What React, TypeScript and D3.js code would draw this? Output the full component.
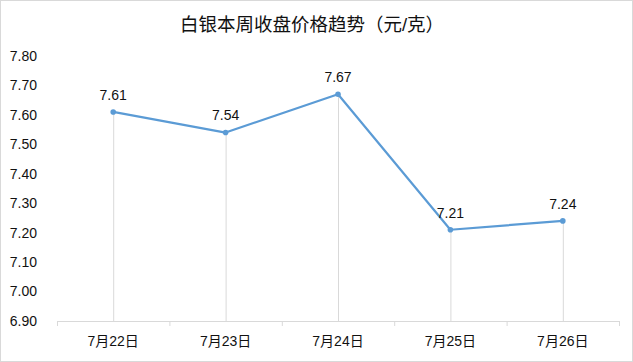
import React from 'react';
import * as d3 from 'd3';

const days = ["7月22日", "7月23日", "7月24日", "7月25日", "7月26日"];
const prices = [7.61, 7.54, 7.67, 7.21, 7.24];
const yTicks = [6.9, 7.0, 7.1, 7.2, 7.3, 7.4, 7.5, 7.6, 7.7, 7.8];
const title = "白银本周收盘价格趋势（元/克）";

const W = 633, H = 362;
const font = "'Liberation Sans', 'Noto Sans CJK SC', sans-serif";
const ink = "#111";

export default function App() {
  const x = d3.scaleBand().domain(days).range([57, 619]);
  const y = d3.scaleLinear().domain([6.9, 7.8]).range([321, 56]);

  const line = d3.line<number>()
    .x((d, i) => x(days[i])! + x.bandwidth() / 2)
    .y(d => y(d));

  const edges = days.map(d => x(d)!).concat([x.range()[1]]);

  return (
    <div style={{ position: 'absolute', left: 0, top: 0 }}>
      <svg width={W} height={H} style={{ display: 'block' }}>
        <rect x={0.5} y={0.5} width={W - 1} height={H - 1} fill="#fff" stroke="#d9d9d9" />
        <text x={312} y={31} textAnchor="middle" fontSize={18.5} fill={ink}
          fontFamily={font}>{title}</text>

        {yTicks.map(t => (
          <text key={t} x={37} y={y(t)} dy="0.35em" textAnchor="end" fontSize={14}
            fill={ink} fontFamily={font}>{t.toFixed(2)}</text>
        ))}

        {/* drop lines */}
        {prices.map((p, i) => {
          const cx = x(days[i])! + x.bandwidth() / 2;
          return <line key={i} x1={cx + 0.5} x2={cx + 0.5} y1={y(p)} y2={y(6.9)} stroke="#d9d9d9" />;
        })}

        {/* x axis */}
        <line x1={x.range()[0]} x2={x.range()[1]} y1={y(6.9) + 0.5} y2={y(6.9) + 0.5} stroke="#d9d9d9" />
        {edges.map((e, i) => (
          <line key={i} x1={e + 0.5} x2={e + 0.5} y1={y(6.9)} y2={y(6.9) + 5} stroke="#d9d9d9" />
        ))}
        {days.map(d => (
          <text key={d} x={x(d)! + x.bandwidth() / 2} y={341} dy="0.35em" textAnchor="middle"
            fontSize={14} fill={ink} fontFamily={font}>{d}</text>
        ))}

        <path d={line(prices)!} fill="none" stroke="#5b9bd5" strokeWidth={2.2} strokeLinejoin="round" />
        {prices.map((p, i) => {
          const cx = x(days[i])! + x.bandwidth() / 2;
          return (
            <g key={i}>
              <circle cx={cx} cy={y(p)} r={2.8} fill="#5b9bd5" />
              <text x={cx} y={y(p) - 17} dy="0.35em" textAnchor="middle" fontSize={14}
                fill={ink} fontFamily={font}>{p.toFixed(2)}</text>
            </g>
          );
        })}
      </svg>
    </div>
  );
}
